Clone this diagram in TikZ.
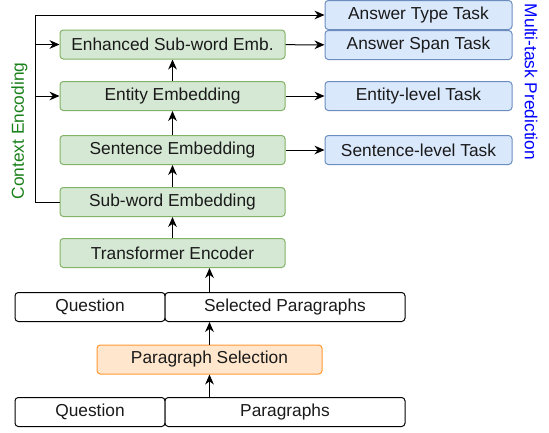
\documentclass[tikz,border=0pt]{standalone}
\usepackage{fontspec}
\setmainfont{Liberation Sans}
\usetikzlibrary{arrows.meta}
\definecolor{encfill}{HTML}{D5E8D4}
\definecolor{encdraw}{HTML}{82B366}
\definecolor{taskfill}{HTML}{DAE8FC}
\definecolor{taskdraw}{HTML}{6C8EBF}
\definecolor{selfill}{HTML}{FFE6CC}
\definecolor{seldraw}{HTML}{FF9933}
\definecolor{enctext}{HTML}{1A801A}
\definecolor{boxtext}{HTML}{1A1A1A}

\begin{document}
\begin{tikzpicture}[x=0.75pt, y=-0.75pt,
		font=\fontsize{13}{15.5}\selectfont,
		box/.style={draw, rounded corners=2.5pt, inner sep=0pt, line width=0.75pt, minimum height=21.75pt, text=boxtext},
		enc/.style={box, fill=encfill, draw=encdraw, minimum width=168.75pt},
		task/.style={box, fill=taskfill, draw=taskdraw, minimum width=140.25pt},
		inp/.style={box, fill=white, draw=black},
		arr/.style={-{Stealth[length=7.5pt, width=6.5pt]}, line width=0.75pt}]
		\useasboundingbox (0,0) rectangle (549,432);
		
		\node[enc] (enh) at (172.5,44.5) {Enhanced Sub-word Emb.};
		\node[enc] (ent) at (172.5,96) {Entity Embedding};
		\node[enc] (sen) at (172.5,150) {Sentence Embedding};
		\node[enc] (sub) at (172.5,202) {Sub-word Embedding};
		\node[enc] (trf) at (172.5,253) {Transformer Encoder};
		
		\node[task] (typ) at (418.5,15) {Answer Type Task};
		\node[task] (spn) at (418.5,45) {Answer Span Task};
		\node[task] (etk) at (418.5,96) {Entity-level Task};
		\node[task] (stk) at (418.5,150) {Sentence-level Task};
		
		\node[inp, minimum width=112.5pt] (q1) at (90,307) {Question};
		\node[inp, minimum width=180pt] (spar) at (285,307) {Selected Paragraphs};
		\node[box, fill=selfill, draw=seldraw, minimum width=168.75pt] (sel) at (209.5,359.5) {Paragraph Selection};
		\node[inp, minimum width=112.5pt] (q2) at (90,412) {Question};
		\node[inp, minimum width=180pt] (par) at (285,412) {Paragraphs};
		
		\node[rotate=90, text=enctext] (ctx) at (19.5,131) {Context Encoding};
		\node[rotate=-90, text=blue] (mtp) at (531,82) {Multi-task Prediction};
		
		\coordinate (bend) at (35,15);
		
		\draw[arr] (sel.south |- par.north) -- (sel.south);
		\draw[arr] (sel.north) -- (sel.north |- spar.south);
		\draw[arr] (sel.north |- spar.north) -- (sel.north |- trf.south);
		
		\draw[arr] (trf) -- (sub);
		\draw[arr] (sub) -- (sen);
		\draw[arr] (sen) -- (ent);
		\draw[arr] (ent) -- (enh);
		
		\draw[arr] (enh) -- (spn);
		\draw[arr] (ent) -- (etk);
		\draw[arr] (sen) -- (stk);
		
		\draw[arr] (sub.west) -| (bend) -- (typ.west);
		\draw[arr] (bend |- enh) -- (enh.west);
		\draw[arr] (bend |- ent) -- (ent.west);
		\end{tikzpicture}
\end{document}
